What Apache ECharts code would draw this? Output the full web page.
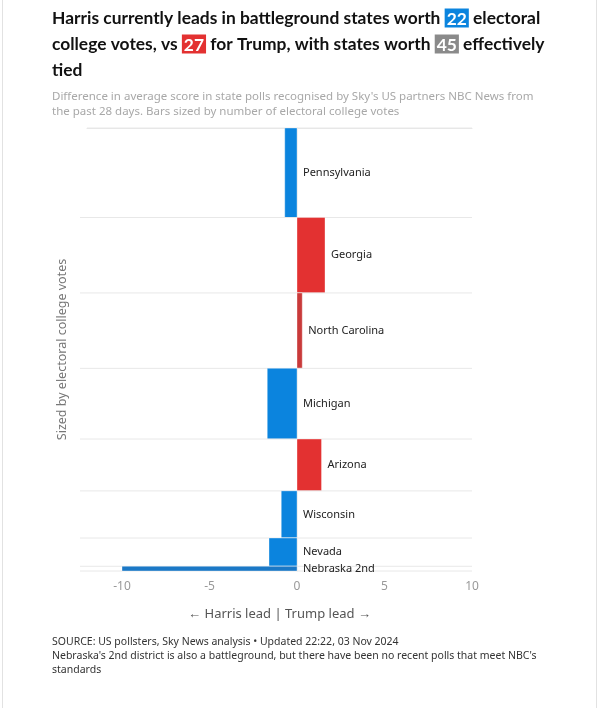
<!DOCTYPE html>
<html>
<head>
<meta charset="utf-8">
<script src="https://cdn.jsdelivr.net/npm/echarts@6/dist/echarts.min.js"></script>
<style>
html,body{margin:0;padding:0;background:#fff;}
#chart{width:599px;height:708px;}
</style>
</head>
<body>
<div id="chart"></div>
<script>
const states = ['Pennsylvania','Georgia','North Carolina','Michigan','Arizona','Wisconsin','Nevada','Nebraska 2nd'];
const margins = [-0.7, 1.6, 0.3, -1.7, 1.4, -0.9, -1.6, -10];
const votes = [19, 16, 16, 15, 11, 10, 6, 1];
const barColors = ['#0b84de','#e33131','#c93a3a','#0b84de','#e33131','#0b84de','#0b84de','#1b78c6'];
const xTicks = [-10, -5, 0, 5, 10];

const totalVotes = votes.reduce((a, b) => a + b, 0);
let acc = 0;
const data = states.map((s, i) => {
  const start = acc; acc += votes[i];
  return { value: [margins[i], start, acc, i], name: s };
});

const chart = echarts.init(document.getElementById('chart'));
const FONT = '"Noto Sans", "Open Sans", sans-serif';
const TFONT = 'Lato, "Noto Sans", sans-serif';
const XMIN = -12, XMAX = 10;
const TS = 17.4;

chart.setOption({
  animation: false,
  textStyle: { fontFamily: FONT },
  title: [
    {
      left: 47, top: 0,
      text: 'Harris currently leads in battleground states worth {b|22} electoral\ncollege votes, vs {r|27} for Trump, with states worth {g|45} effectively\ntied',
      textStyle: {
        fontFamily: TFONT, fontSize: TS, fontWeight: 'bold', color: '#111', lineHeight: 26,
        rich: {
          b: { backgroundColor: '#0b84de', color: '#fff', fontSize: TS, fontWeight: 'bold', padding: [2, 2, 0, 2], fontFamily: TFONT },
          r: { backgroundColor: '#e33131', color: '#fff', fontSize: TS, fontWeight: 'bold', padding: [2, 2, 0, 2], fontFamily: TFONT },
          g: { backgroundColor: '#8a8a8a', color: '#fff', fontSize: TS, fontWeight: 'bold', padding: [2, 2, 0, 2], fontFamily: TFONT }
        }
      }
    },
    {
      left: 47, top: 84,
      text: 'Difference in average score in state polls recognised by Sky\'s US partners NBC News from\nthe past 28 days. Bars sized by number of electoral college votes',
      textStyle: { fontFamily: FONT, fontSize: 11.5, fontWeight: 'normal', color: '#a8a8a8', lineHeight: 15 }
    },
    {
      left: 47, top: 630,
      text: 'SOURCE: US pollsters, Sky News analysis \u2022 Updated 22:22, 03 Nov 2024\nNebraska\'s 2nd district is also a battleground, but there have been no recent polls that meet NBC\'s\nstandards',
      textStyle: { fontFamily: FONT, fontSize: 10.5, fontWeight: 'normal', color: '#333', lineHeight: 14 }
    }
  ],
  graphic: [
    { type: 'rect', shape: { x: 2.5, y: -2, width: 594, height: 712 }, style: { fill: 'none', stroke: '#e2e2e2', lineWidth: 1 }, silent: true }
  ],
  grid: { left: 87, right: 127, top: 128, bottom: 137 },
  xAxis: {
    type: 'value', min: XMIN, max: XMAX,
    name: '\u2190 Harris lead | Trump lead \u2192',
    nameLocation: 'middle', nameGap: 37,
    nameTextStyle: { fontFamily: FONT, fontSize: 13, color: '#555' },
    axisLine: { show: true, lineStyle: { color: '#e6e6e6' } },
    axisTick: { show: false },
    splitLine: { show: false },
    axisLabel: { customValues: xTicks, color: '#999', fontSize: 12, margin: 10, fontFamily: FONT }
  },
  yAxis: {
    type: 'value', min: 0, max: totalVotes, inverse: true,
    name: 'Sized by electoral college votes',
    nameLocation: 'middle', nameGap: 18,
    nameTextStyle: { fontFamily: FONT, fontSize: 12.5, color: '#777' },
    axisLine: { show: true, lineStyle: { color: '#ececec' } },
    axisTick: { show: false },
    axisLabel: { show: false },
    splitLine: { show: false }
  },
  series: [{
    type: 'custom',
    data: data,
    clip: false,
    renderItem: function (params, api) {
      const v = api.value(0), s = api.value(1), e = api.value(2), idx = api.value(3);
      const p0 = api.coord([0, s]);
      const p1 = api.coord([v, e]);
      const left = api.coord([XMIN, s])[0];
      const right = api.coord([XMAX, s])[0];
      const children = [];
      const boundStart = idx === 0 ? left : left - 7;
      children.push({ type: 'line', shape: { x1: boundStart, y1: p0[1], x2: right, y2: p0[1] }, style: { stroke: '#e8e8e8', lineWidth: 1 }, silent: true });
      if (idx === states.length - 1) {
        children.push({ type: 'line', shape: { x1: left - 7, y1: p1[1], x2: right, y2: p1[1] }, style: { stroke: '#e8e8e8', lineWidth: 1 }, silent: true });
      }
      children.push({
        type: 'rect',
        shape: { x: Math.min(p0[0], p1[0]), y: p0[1], width: Math.abs(p1[0] - p0[0]), height: p1[1] - p0[1] },
        style: { fill: barColors[idx], stroke: 'rgba(255,255,255,0.35)', lineWidth: 1 }
      });
      const labX = api.coord([Math.max(0, v), s])[0] + 6;
      children.push({
        type: 'text',
        x: labX, y: (p0[1] + p1[1]) / 2,
        style: { text: states[idx], fill: '#222', fontSize: 11, fontFamily: FONT, verticalAlign: 'middle', align: 'left' }
      });
      return { type: 'group', children: children };
    }
  }]
});
</script>
</body>
</html>
